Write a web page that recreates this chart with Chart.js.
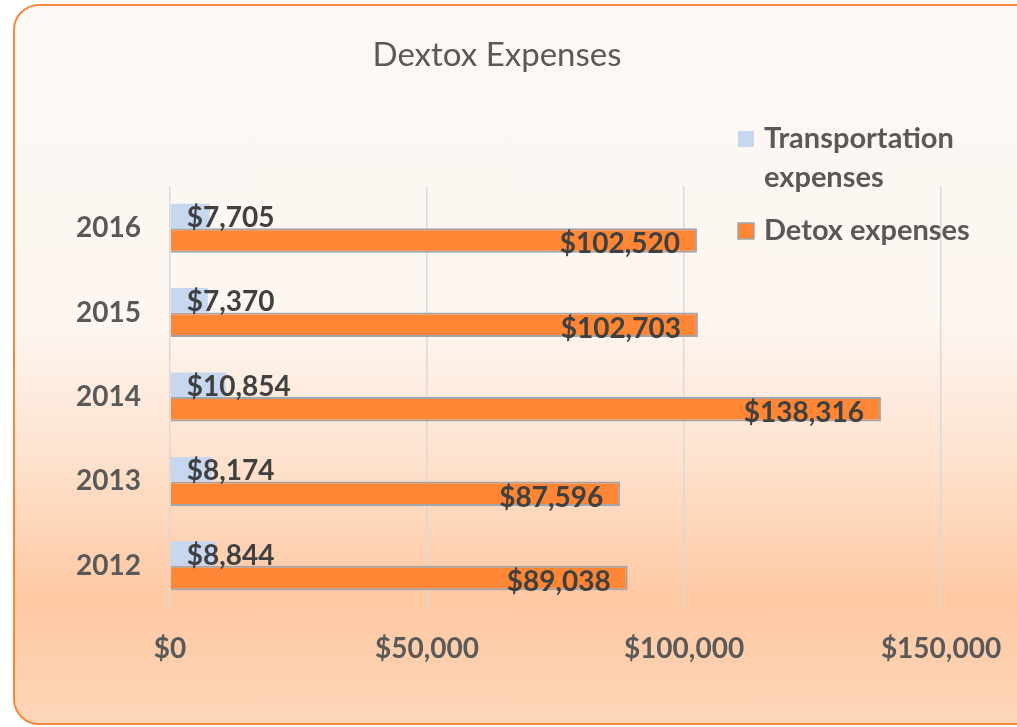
<!DOCTYPE html>
<html>
<head>
<meta charset="utf-8">
<title>Dextox Expenses</title>
<script src="https://cdn.jsdelivr.net/npm/chart.js@4/dist/chart.umd.min.js"></script>
<style>
  html, body { margin: 0; padding: 0; background: #ffffff; }
  #wrap { position: relative; width: 1017px; height: 727px; overflow: hidden; }
  #frame {
    position: absolute; left: 13px; top: 4px; width: 1040px; height: 717px;
    border: 2px solid #f58a3c; border-radius: 26px;
    background: linear-gradient(to bottom, #fdf8f4 0%, #fdf6f1 44%, #fee3d0 62%, #fec8a2 83%, #fdd6b9 100%);
  }
  #chart { position: absolute; left: 0; top: 0; }
</style>
</head>
<body>
<div id="wrap">
  <div id="frame"></div>
  <canvas id="chart" width="1017" height="727"></canvas>
</div>
<script>
// chart data (top row first, as in the picture)
const years = ['2016', '2015', '2014', '2013', '2012'];
const transportExpenses = [7705, 7370, 10854, 8174, 8844];
const detoxExpenses = [102520, 102703, 138316, 87596, 89038];
const seriesNames = ['Transportation expenses', 'Detox expenses'];
const xTicks = [0, 50000, 100000, 150000];
const chartTitle = 'Dextox Expenses';

const FONT = 'Lato, "Open Sans", sans-serif';

function money(v) {
    return '$' + Number(v).toLocaleString('en-US');
}

// title sits off-centre in the original, so draw it here
const titleText = {
    id: 'titleText',
    afterDraw(chart) {
        const ctx = chart.ctx;
        ctx.save();
        ctx.font = '33px ' + FONT;
        ctx.fillStyle = '#595959';
        ctx.textAlign = 'center';
        ctx.textBaseline = 'middle';
        ctx.fillText(chartTitle, 497, 55);
        ctx.restore();
    }
};

// data labels: transport at inside base, detox at inside end
const barLabels = {
    id: 'barLabels',
    afterDatasetsDraw(chart) {
        const ctx = chart.ctx;
        ctx.save();
        ctx.font = 'bold 28px ' + FONT;
        ctx.fillStyle = '#404040';
        ctx.textBaseline = 'middle';
        chart.data.datasets.forEach((ds, i) => {
            chart.getDatasetMeta(i).data.forEach((bar, j) => {
                const text = money(ds.data[j]);
                if (i === 0) {
                    ctx.textAlign = 'left';
                    ctx.fillText(text, bar.base + 16, bar.y + 2);
                } else {
                    ctx.textAlign = 'right';
                    ctx.fillText(text, bar.x - 17, bar.y + 4);
                }
            });
        });
        ctx.restore();
    }
};

// floating legend in the top right corner
const sideLegend = {
    id: 'sideLegend',
    afterDraw(chart) {
        const ctx = chart.ctx;
        const x = 738, maxW = 230, lineH = 39;
        let y = 139;
        ctx.save();
        ctx.font = 'bold 29px ' + FONT;
        ctx.textBaseline = 'middle';
        ctx.textAlign = 'left';
        chart.data.datasets.forEach(ds => {
            ctx.fillStyle = ds.backgroundColor;
            ctx.fillRect(x, y - 8, 16, 16);
            if (ds.borderColor && ds.borderColor !== 'transparent') {
                ctx.strokeStyle = ds.borderColor;
                ctx.lineWidth = 1.5;
                ctx.strokeRect(x, y - 8, 16, 16);
            }
            // simple word wrap
            const words = ds.label.split(' ');
            let line = '';
            const lines = [];
            words.forEach(w => {
                const test = line ? line + ' ' + w : w;
                if (ctx.measureText(test).width > maxW && line) {
                    lines.push(line);
                    line = w;
                } else {
                    line = test;
                }
            });
            lines.push(line);
            ctx.fillStyle = '#595959';
            lines.forEach((l, k) => ctx.fillText(l, x + 26, y + k * lineH));
            y += lines.length * lineH + 14;
        });
        ctx.restore();
    }
};

const ctx = document.getElementById('chart').getContext('2d');
const chart = new Chart(ctx, {
    type: 'bar',
    data: {
        labels: years,
        datasets: [{
            label: seriesNames[0],
            data: transportExpenses,
            backgroundColor: '#c7d7f0',
            borderColor: 'transparent',
            borderWidth: 0
        }, {
            label: seriesNames[1],
            data: detoxExpenses,
            backgroundColor: '#fe8635',
            borderColor: '#a2a5ab',
            borderWidth: { top: 2, bottom: 2, right: 2, left: 0 }
        }]
    },
    options: {
        indexAxis: 'y',
        responsive: false,
        animation: false,
        devicePixelRatio: 1,
        layout: { padding: { left: 0, right: 76, top: 186, bottom: 0 } },
        datasets: {
            bar: { categoryPercentage: 0.58, barPercentage: 1.0 }
        },
        scales: {
            x: {
                min: 0,
                max: 150000,
                afterBuildTicks(scale) {
                    scale.ticks = xTicks.map(v => ({ value: v }));
                },
                afterFit(scale) {
                    scale.height = 119;
                    scale.paddingLeft = 0;
                    scale.paddingRight = 0;
                },
                grid: { color: '#d9d9d9', lineWidth: 1.5, drawTicks: false },
                border: { display: false },
                ticks: {
                    padding: 24,
                    color: '#595959',
                    font: { family: FONT, size: 28, weight: 'bold' },
                    callback: v => money(v)
                }
            },
            y: {
                afterFit(scale) { scale.width = 170; },
                grid: { display: false },
                border: { display: false },
                ticks: {
                    padding: 21,
                    color: '#595959',
                    font: { family: FONT, size: 28, weight: 'bold' }
                }
            }
        },
        plugins: {
            legend: { display: false },
            tooltip: { enabled: false },
            title: { display: false }
        }
    },
    plugins: [barLabels, sideLegend, titleText]
});
</script>
</body>
</html>
